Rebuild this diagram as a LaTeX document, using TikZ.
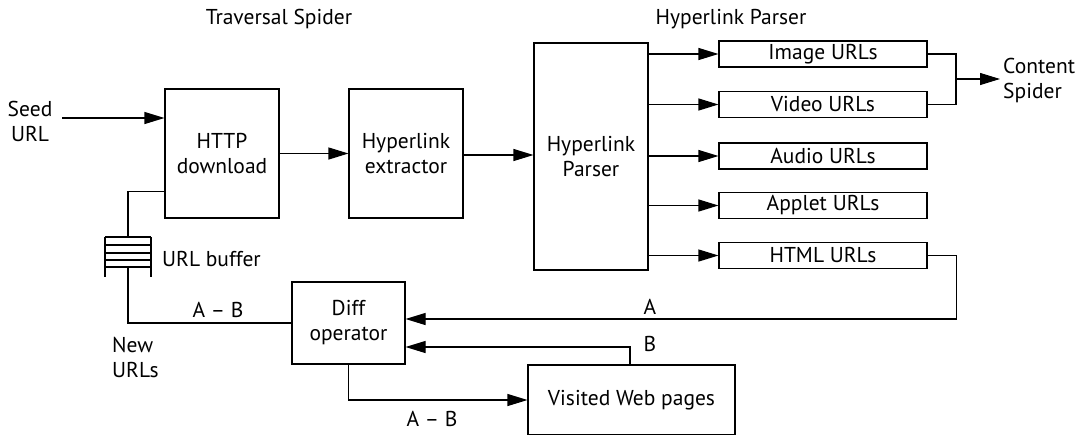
\documentclass[tikz,border=0pt]{standalone}
\usepackage{fontspec}
\setmainfont{PT Sans}
\usetikzlibrary{arrows.meta}

\tikzset{
    blk/.style={draw=black, line width=1.1pt, inner sep=0pt, align=center},
    urlbox/.style={blk, minimum width=208pt, minimum height=26pt},
    lbl/.style={inner sep=0pt, align=left},
    arr/.style={-{Triangle[length=20pt,width=12pt]}, line width=1.1pt},
    ln/.style={line width=1.1pt}
}

\begin{document}
\begin{tikzpicture}[x=1pt, y=-1pt, font=\fontsize{21.5}{25}\selectfont]
    \clip (0,0) rectangle (1092,434);

    % titles
    \node[lbl] (tstitle) at (279,19) {Traversal Spider};
    \node[lbl] (hptitle) at (731,19) {Hyperlink Parser};

    % main blocks
    \node[lbl, align=center] (seed) at (30,121) {Seed\\URL};
    \node[blk, minimum width=114pt, minimum height=129pt] (http) at (222,153.5) {HTTP\\download};
    \node[blk, minimum width=114pt, minimum height=129pt] (ext) at (406,153.5) {Hyperlink\\extractor};
    \node[blk, minimum width=114pt, minimum height=227pt] (parser) at (591,156.5) {Hyperlink\\Parser};

    \node[urlbox] (img) at (823,54) {Image URLs};
    \node[urlbox] (vid) at (823,104.5) {Video URLs};
    \node[urlbox] (aud) at (823,156) {Audio URLs};
    \node[urlbox] (app) at (823,205.5) {Applet URLs};
    \node[urlbox] (html) at (823,255.5) {HTML URLs};
    \node[lbl, anchor=west] (content) at (1003,80) {Content\\Spider};

    \node[blk, minimum width=113pt, minimum height=82pt] (diff) at (348.5,323) {Diff\\operator};
    \node[blk, minimum width=207pt, minimum height=70pt] (visited) at (631.5,400) {Visited Web pages};

    % url buffer
    \coordinate (buftop) at (128,237);
    \coordinate (bufbot) at (128,267);
    \foreach \yy in {237,245,253,260,267}
        \draw[ln] (105,\yy) -- (151,\yy);
    \draw[ln] (105,237) -- (105,277);
    \draw[ln] (151,237) -- (151,277);
    \node[lbl, anchor=west] (buflbl) at (162,259) {URL buffer};
    \node[lbl, anchor=west] (newurl) at (112,357) {New\\URLs};

    % edge labels
    \node[lbl] (lba) at (650,307) {A};
    \node[lbl] (lbb) at (650,344) {B};
    \node[lbl] (lbab1) at (218,310) {A -- B};
    \node[lbl] (lbab2) at (432,419) {A -- B};

    % connectors
    \draw[arr] ([xshift=10pt]seed.east |- 0,118) -- (http.west |- 0,118);
    \draw[arr] (http) -- (ext);
    \draw[arr] (ext.east |- 0,155) -- (parser.west |- 0,155);
    \foreach \b in {img,vid,aud,app,html}
        \draw[arr] (parser.east |- \b) -- (\b.west);

    \coordinate (join) at (956,79);
    \draw[ln] (img.east) -| (join) |- (vid.east);
    \draw[arr] (join) -- ([xshift=-3pt]content.west |- join);

    \draw[arr] (html.east) -- ++(29,0) |- ([yshift=4pt]diff.east);
    \draw[arr] (visited.north -| 630,0) |- ([yshift=-24pt]diff.east);
    \draw[arr] (diff.south) |- (visited.west);
    \draw[ln] (diff.west) -| (bufbot);
    \draw[ln] (buftop) |- ([yshift=-38pt]http.west);
\end{tikzpicture}
\end{document}
